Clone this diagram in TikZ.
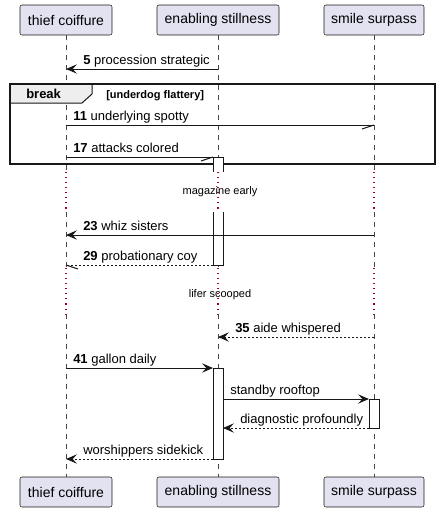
\documentclass[tikz,border=0pt]{standalone}
\usepackage{fontspec}
\setmainfont{Liberation Sans}
\usetikzlibrary{arrows.meta}
\definecolor{actorfill}{HTML}{E2E2F0}
\definecolor{inkline}{HTML}{181818}
\definecolor{delaydot}{HTML}{A80036}
\definecolor{tabfill}{HTML}{EEEEEE}
\tikzset{
	actor/.style={draw=inkline, fill=actorfill, rounded corners=1.5pt, minimum height=22.5pt, inner sep=0pt, line width=0.4pt, font=\fontsize{10.5}{12}\selectfont},
	lifeline/.style={inkline!80, dash pattern=on 3.75pt off 3.75pt, line width=0.45pt},
	delayline/.style={delaydot, dash pattern=on 0.8pt off 3pt, line width=0.8pt},
	msg/.style={inkline, line width=0.75pt},
	reply/.style={msg, dash pattern=on 1.5pt off 1.5pt},
	full/.style={-{Stealth[length=8.25pt, width=7pt, inset=3.3pt]}},
	lbl/.style={anchor=base west, inner sep=0pt, font=\fontsize{9.75}{11}\selectfont},
	delaytxt/.style={inner sep=0pt, font=\fontsize{8.25}{10}\selectfont},
	activebox/.style={draw=inkline, fill=white, line width=0.75pt}
}
\begin{document}
\begin{tikzpicture}[x=0.75pt, y=-0.75pt]
	\useasboundingbox (0,0) rectangle (439,512);
	% participants
	\node[actor, minimum width=69pt] (top-tc) at (66,20) {thief coiffure};
	\node[actor, minimum width=91.5pt] (top-es) at (218,20) {enabling stillness};
	\node[actor, minimum width=75pt] (top-ss) at (374,20) {smile surpass};
	\node[actor, minimum width=69pt] (bot-tc) at (66,492) {thief coiffure};
	\node[actor, minimum width=91.5pt] (bot-es) at (218,492) {enabling stillness};
	\node[actor, minimum width=75pt] (bot-ss) at (374,492) {smile surpass};
	% lifelines, dotted where the delays are
	\foreach \p in {tc,es,ss}{
		\draw[lifeline] (top-\p.south) -- (top-\p.south |- 0,172);
		\draw[delayline] (top-\p.south |- 0,172) -- (top-\p.south |- 0,212);
		\draw[lifeline] (top-\p.south |- 0,212) -- (top-\p.south |- 0,268);
		\draw[delayline] (top-\p.south |- 0,268) -- (top-\p.south |- 0,314);
		\draw[lifeline] (top-\p.south |- 0,314) -- (bot-\p.north);
	}
	% break group
	\filldraw[fill=tabfill, draw=inkline, line width=0.75pt] (10,84) -- (10,103) -- (82,103) -- (92,94) -- (92,84) -- cycle;
	\draw[inkline, line width=1.1pt] (10,84) rectangle (435,164);
	\node[anchor=base west, inner sep=0pt, font=\fontsize{9.75}{11}\selectfont\bfseries] (brk) at (26,98) {break};
	\node[anchor=base west, inner sep=0pt, font=\fontsize{8.25}{10}\selectfont\bfseries] (cond) at (106,98) {[underdog flattery]};
	% activations
	\filldraw[activebox] (213,172) -- (213,157) -- (223,157) -- (223,172);
	\filldraw[activebox] (223,212) -- (223,265) -- (213,265) -- (213,212);
	\filldraw[activebox] (213,368) rectangle (223,459);
	\filldraw[activebox] (369,399) rectangle (379,428);
	% message ends
	\coordinate (m5a) at (218,69);  \coordinate (m5b) at (66,69);
	\coordinate (m11a) at (66,125); \coordinate (m11b) at (374,125);
	\coordinate (m17a) at (66,157); \coordinate (m17b) at (213,157);
	\coordinate (m23a) at (374,235); \coordinate (m23b) at (66,235);
	\coordinate (m29a) at (213,265); \coordinate (m29b) at (66,265);
	\coordinate (m35a) at (374,337); \coordinate (m35b) at (218,337);
	\coordinate (m41a) at (66,368); \coordinate (m41b) at (213,368);
	\coordinate (sra) at (223,399); \coordinate (srb) at (369,399);
	\coordinate (dpa) at (369,428); \coordinate (dpb) at (223,428);
	\coordinate (wsa) at (213,459); \coordinate (wsb) at (66,459);
	% messages
	\draw[msg, full] (m5a) -- (m5b);
	\draw[msg] (m11a) -- (m11b); \draw[msg] (m11b) -- ++(-12,4);
	\draw[msg] (m17a) -- (m17b); \draw[msg] (m17b) -- ++(-12,4);
	\draw[msg, full] (m23a) -- (m23b);
	\draw[reply] (m29a) -- (m29b); \draw[msg] (m29b) -- ++(12,4);
	\draw[reply, full] (m35a) -- (m35b);
	\draw[msg, full] (m41a) -- (m41b);
	\draw[msg, full] (sra) -- (srb);
	\draw[reply, full] (dpa) -- (dpb);
	\draw[reply, full] (wsa) -- (wsb);
	% labels
	\node[lbl] (l5) at (83,64) {\textbf{5} procession strategic};
	\node[lbl] (l11) at (73,120) {\textbf{11} underlying spotty};
	\node[lbl] (l17) at (73,152) {\textbf{17} attacks colored};
	\node[lbl] (l23) at (83,230) {\textbf{23} whiz sisters};
	\node[lbl] (l29) at (83,260) {\textbf{29} probationary coy};
	\node[lbl] (l35) at (235,332) {\textbf{35} aide whispered};
	\node[lbl] (l41) at (73,363) {\textbf{41} gallon daily};
	\node[lbl] (lsr) at (230,394) {standby rooftop};
	\node[lbl] (ldp) at (240,423) {diagnostic profoundly};
	\node[lbl] (lws) at (83,454) {worshippers sidekick};
	% delays
	\node[delaytxt] (d1) at (220,192) {magazine early};
	\node[delaytxt] (d2) at (220,295) {lifer scooped};
\end{tikzpicture}
\end{document}
